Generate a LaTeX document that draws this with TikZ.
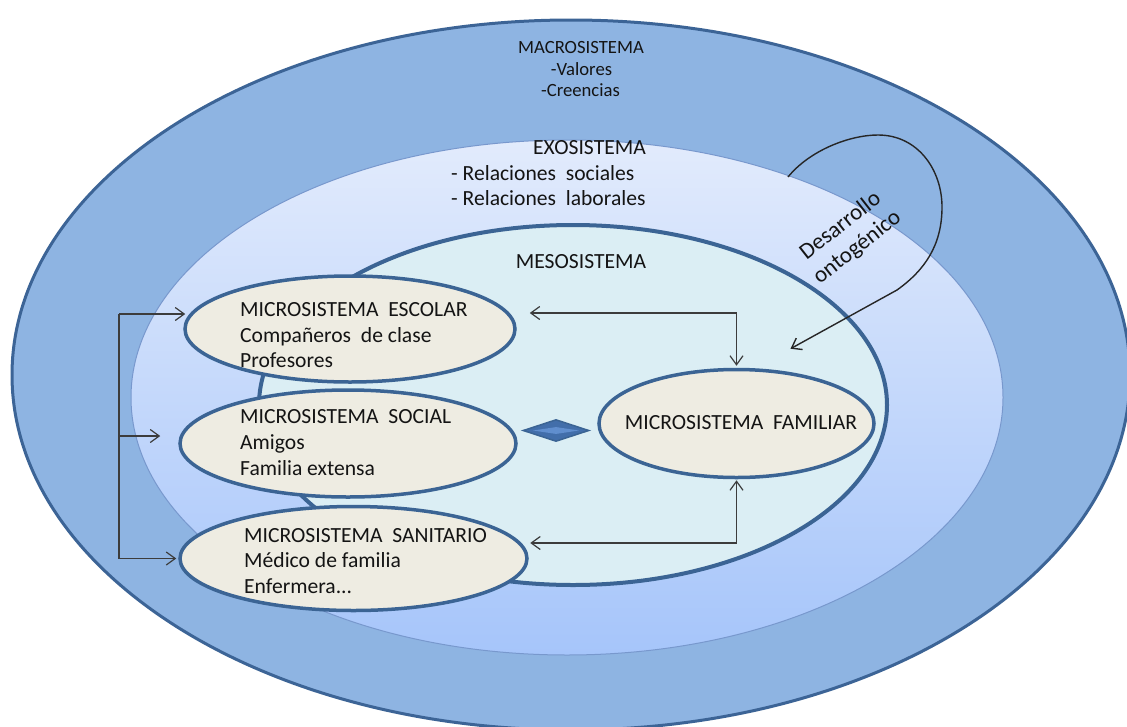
\documentclass[tikz,border=0pt]{standalone}
\usepackage{fontspec}
\setmainfont{Carlito}
\usetikzlibrary{shapes.geometric,arrows.meta,calc}

\definecolor{macrofill}{RGB}{142,180,226}
\definecolor{macroline}{RGB}{60,100,150}
\definecolor{exotop}{RGB}{226,235,252}
\definecolor{exobot}{RGB}{166,197,250}
\definecolor{exoline}{RGB}{120,152,205}
\definecolor{mesofill}{RGB}{219,238,244}
\definecolor{sysline}{RGB}{59,100,148}
\definecolor{microfill}{RGB}{238,236,226}
\definecolor{linkgray}{RGB}{60,60,60}
\definecolor{diamfill}{RGB}{66,110,170}
\definecolor{diamlight}{RGB}{96,142,206}
\definecolor{inktext}{RGB}{20,20,20}

\tikzset{
  microbox/.style={ellipse, draw=sysline, line width=3.5pt, fill=microfill, inner sep=0pt},
  bigtxt/.style={font=\fontsize{21.6}{25.6}\selectfont, inner sep=0pt, text=inktext},
  smalltxt/.style={font=\fontsize{18.67}{22}\selectfont, inner sep=0pt, text=inktext},
  link/.style={draw=linkgray, line width=1.2pt},
  >={Straight Barb[length=9pt,width=13pt]}
}

\begin{document}
\begin{tikzpicture}[x=1pt,y=-1pt]
\useasboundingbox (0,0) rectangle (1127,726);
\clip (0,0) rectangle (1127,726);
\fill[white] (0,0) rectangle (1127,726);

% macrosystem, exosystem and mesosystem rings
\draw[fill=macrofill, draw=macroline, line width=3pt] (571,375) ellipse [x radius=559, y radius=355];
\shade[top color=exotop, bottom color=exobot] (567,397.5) ellipse [x radius=436, y radius=257.5];
\draw[draw=exoline, line width=1pt] (567,397.5) ellipse [x radius=436, y radius=257.5];
\draw[fill=mesofill, draw=sysline, line width=4pt] (573,405) ellipse [x radius=314, y radius=180];

% ring titles
\node[smalltxt, anchor=base] (macro) at (581,53) {MACROSISTEMA};
\node[smalltxt, anchor=base] (valores) at (581.5,75) {-Valores};
\node[smalltxt, anchor=base] (creencias) at (580.5,96) {-Creencias};

\node[bigtxt, anchor=base east] (exo) at (646,154) {EXOSISTEMA};
\node[bigtxt, anchor=base west] (relsoc) at (451,180) {- Relaciones\ \ sociales};
\node[bigtxt, anchor=base west] (rellab) at (451,205) {- Relaciones\ \ laborales};

\node[bigtxt, anchor=base] (meso) at (581,268) {MESOSISTEMA};

% microsystems
\node[microbox, minimum width=330pt, minimum height=106pt] (esc) at (350,329) {};
\node[microbox, minimum width=336pt, minimum height=107pt] (soc) at (348,443.5) {};
\node[microbox, minimum width=347pt, minimum height=104pt] (san) at (353.5,558.5) {};
\node[microbox, minimum width=275pt, minimum height=108pt] (fam) at (736.5,423.5) {};

\node[bigtxt, anchor=base west] (escA) at (240,316) {MICROSISTEMA\ \ ESCOLAR};
\node[bigtxt, anchor=base west] (escB) at (240,342) {Compañeros\ \ de clase};
\node[bigtxt, anchor=base west] (escC) at (240,367) {Profesores};

\node[bigtxt, anchor=base west] (socA) at (240,423) {MICROSISTEMA\ \ SOCIAL};
\node[bigtxt, anchor=base west] (socB) at (240,449) {Amigos};
\node[bigtxt, anchor=base west] (socC) at (240,475) {Familia extensa};

\node[bigtxt, anchor=base west] (sanA) at (244,542) {MICROSISTEMA\ \ SANITARIO};
\node[bigtxt, anchor=base west] (sanB) at (244,567) {Médico de familia};
\node[bigtxt, anchor=base west] (sanC) at (244,593) {Enfermera...};

\node[bigtxt, anchor=base] (famA) at (741,429) {MICROSISTEMA\ \ FAMILIAR};

% two-way link marker between social and family systems
\node[diamond, fill=diamfill, draw=sysline, line width=1.5pt, inner sep=0pt,
      minimum width=66pt, minimum height=22pt] (dia) at (556,430.5) {};
\node[diamond, fill=diamlight, inner sep=0pt, minimum width=46pt, minimum height=7pt] (dialight) at (556,430.5) {};

% connectors
\draw[link,<->] ([shift={(13pt,16pt)}]esc.east) -| ([yshift=2pt]fam.north);
\draw[link,<->] ([shift={(1.5pt,15.5pt)}]san.east) -| ([yshift=-1pt]fam.south);

\coordinate (busTop) at (119,314);
\coordinate (busBot) at (119,558.5);
\draw[link] (busTop) -- (busBot);
\draw[link,->] (busTop) -- ([shift={(2pt,15pt)}]esc.west);
\draw[link,->] ([yshift=7.5pt]soc.west -| busTop) -- ([shift={(-18pt,7.5pt)}]soc.west);
\draw[link,->] (busBot) -- ([xshift=-2pt]san.west);

% ontogenetic development arrow
\coordinate (curveStart) at (788,177);
\draw[draw=black!85, line width=1.4pt, ->] (curveStart)
  .. controls (810,150) and (850,135) .. (878,135)
  .. controls (918,135) and (942,170) .. (942,207)
  .. controls (942,245) and (925,270) .. (897,290)
  -- ([shift={(54pt,19pt)}]fam.north);
\node[font=\fontsize{23}{27}\selectfont, text=inktext, inner sep=0pt, rotate=38, align=center]
  (onto) at (849,237) {Desarrollo\\ontogénico};
\end{tikzpicture}
\end{document}
